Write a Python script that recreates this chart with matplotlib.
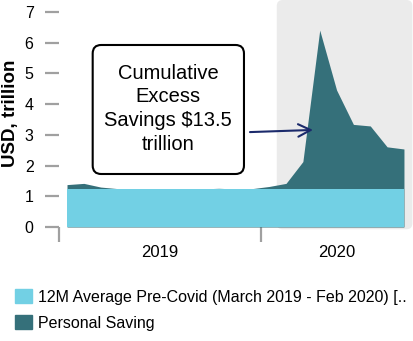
import numpy as np
import matplotlib
matplotlib.use("Agg")
import matplotlib.pyplot as plt
from matplotlib.patches import FancyBboxPatch, Patch

plt.rcParams['font.family'] = ['Liberation Sans', 'DejaVu Sans']

# monthly, Jan 2019 .. Sep 2020 (USD trillion, SAAR)
months = np.arange(21)
personal_saving = [1.38, 1.42, 1.30, 1.25, 1.24, 1.24, 1.25, 1.24, 1.24, 1.26,
                   1.24, 1.25, 1.32, 1.42, 2.13, 6.41, 4.46, 3.34, 3.29, 2.61, 2.54]
avg_pre_covid = [1.25] * 21
year_labels = ['2019', '2020']
year_label_pos = [5.5, 16.0]
year_bounds = [-0.5, 11.5]
covid_start = 12.45

c_light = '#72d0e4'
c_dark = '#35707a'
c_tick = '#a0a0a0'

fig = plt.figure(figsize=(4.14, 3.41), dpi=100)
ax = fig.add_axes([0.1415, 0.3343, 0.8546, 0.6657])

ax.set_xlim(-0.5, 20.5)
ax.set_ylim(0, 7.39)

# shaded covid period
x0 = (covid_start + 0.5) / 21
bg = FancyBboxPatch((x0, -0.01), 1.0 - x0, 1.01, transform=ax.transAxes,
                    boxstyle='round,pad=0,rounding_size=0.017', mutation_aspect=1.559,
                    fc='#ebebeb', ec='none', zorder=0, clip_on=False)
ax.add_patch(bg)

ax.fill_between(months, 0, personal_saving, color=c_dark, lw=0, zorder=2)
ax.fill_between(months, 0, avg_pre_covid, color=c_light, lw=0, zorder=3)

for s in ax.spines.values():
    s.set_visible(False)

ax.set_yticks(range(8))
ax.tick_params(axis='y', length=10, width=1.6, color=c_tick, pad=8, labelsize=11.5)
ax.set_xticks(year_bounds)
ax.set_xticklabels([])
ax.set_xticks(year_label_pos, minor=True)
ax.set_xticklabels(year_labels, minor=True)
ax.tick_params(axis='x', which='major', length=11, width=1.6, color=c_tick)
ax.tick_params(axis='x', which='minor', length=0, pad=13, labelsize=12)

ax.set_ylabel('USD, trillion', fontsize=13.5, fontweight='bold')
ax.yaxis.set_label_coords(-0.112, 0.5)

# annotation box
box = FancyBboxPatch((0.0964, 0.2335), 0.4276, 0.5683, transform=ax.transAxes,
                     boxstyle='round,pad=0,rounding_size=0.024', mutation_aspect=1.559,
                     fc='white', ec='black', lw=1.5, zorder=5)
ax.add_patch(box)
ax.text(0.31, 0.52, 'Cumulative\nExcess\nSavings $13.5\ntrillion', transform=ax.transAxes,
        ha='center', va='center', fontsize=14.5, linespacing=1.33, zorder=6)
ax.annotate('', xy=(14.6, 3.16), xytext=(10.86, 3.09),
            arrowprops=dict(arrowstyle='->,head_length=0.9,head_width=0.45',
                            color='#1b2a6b', lw=1.5, shrinkA=0, shrinkB=0), zorder=6)

handles = [Patch(color=c_light), Patch(color=c_dark)]
labels = ['12M Average Pre-Covid (March 2019 - Feb 2020) [..', 'Personal Saving']
fig.legend(handles, labels, loc='upper left', bbox_to_anchor=(0.036, 0.152),
           frameon=False, fontsize=11.5, borderpad=0, borderaxespad=0,
           handlelength=1.07, handleheight=1.0, handletextpad=0.4, labelspacing=0.65)

fig.savefig('out.png', dpi=100)
